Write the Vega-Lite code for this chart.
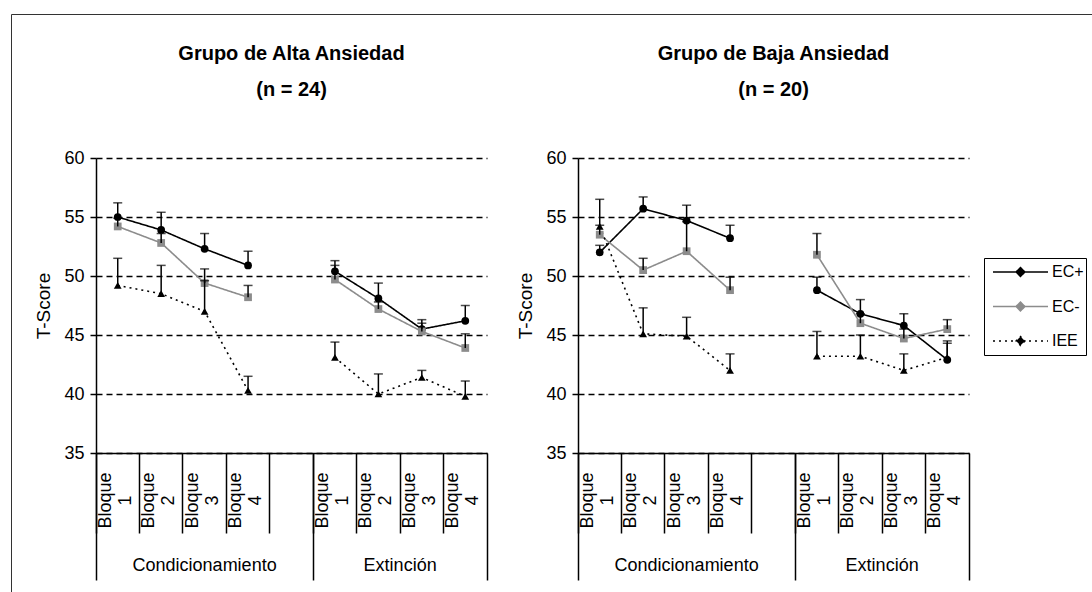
{
  "$schema": "https://vega.github.io/schema/vega-lite/v6.json",
  "autosize": {"type": "none"},
  "padding": {"left": 96, "top": 158, "right": 996, "bottom": 434},
  "background": "white",
  "spacing": 91,
  "bounds": "flush",
  "data": {"values": [
    {"grupo": "Alta", "fase": "Condicionamiento", "bloque": "C1", "serie": "EC+", "valor": 55.0, "sup": 56.2},
    {"grupo": "Alta", "fase": "Condicionamiento", "bloque": "C1", "serie": "EC-", "valor": 54.2, "sup": 54.9},
    {"grupo": "Alta", "fase": "Condicionamiento", "bloque": "C1", "serie": "IEE", "valor": 49.2, "sup": 51.5},
    {"grupo": "Alta", "fase": "Condicionamiento", "bloque": "C2", "serie": "EC+", "valor": 53.9, "sup": 55.4},
    {"grupo": "Alta", "fase": "Condicionamiento", "bloque": "C2", "serie": "EC-", "valor": 52.8, "sup": 53.6},
    {"grupo": "Alta", "fase": "Condicionamiento", "bloque": "C2", "serie": "IEE", "valor": 48.5, "sup": 50.9},
    {"grupo": "Alta", "fase": "Condicionamiento", "bloque": "C3", "serie": "EC+", "valor": 52.3, "sup": 53.6},
    {"grupo": "Alta", "fase": "Condicionamiento", "bloque": "C3", "serie": "EC-", "valor": 49.4, "sup": 50.6},
    {"grupo": "Alta", "fase": "Condicionamiento", "bloque": "C3", "serie": "IEE", "valor": 47.0, "sup": 49.6},
    {"grupo": "Alta", "fase": "Condicionamiento", "bloque": "C4", "serie": "EC+", "valor": 50.9, "sup": 52.1},
    {"grupo": "Alta", "fase": "Condicionamiento", "bloque": "C4", "serie": "EC-", "valor": 48.2, "sup": 49.2},
    {"grupo": "Alta", "fase": "Condicionamiento", "bloque": "C4", "serie": "IEE", "valor": 40.3, "sup": 41.5},
    {"grupo": "Alta", "fase": "Extinción", "bloque": "E1", "serie": "EC+", "valor": 50.4, "sup": 51.3},
    {"grupo": "Alta", "fase": "Extinción", "bloque": "E1", "serie": "EC-", "valor": 49.7, "sup": 50.9},
    {"grupo": "Alta", "fase": "Extinción", "bloque": "E1", "serie": "IEE", "valor": 43.1, "sup": 44.4},
    {"grupo": "Alta", "fase": "Extinción", "bloque": "E2", "serie": "EC+", "valor": 48.1, "sup": 49.4},
    {"grupo": "Alta", "fase": "Extinción", "bloque": "E2", "serie": "EC-", "valor": 47.2, "sup": 47.8},
    {"grupo": "Alta", "fase": "Extinción", "bloque": "E2", "serie": "IEE", "valor": 40.0, "sup": 41.7},
    {"grupo": "Alta", "fase": "Extinción", "bloque": "E3", "serie": "EC+", "valor": 45.5, "sup": 46.3},
    {"grupo": "Alta", "fase": "Extinción", "bloque": "E3", "serie": "EC-", "valor": 45.3, "sup": 46.0},
    {"grupo": "Alta", "fase": "Extinción", "bloque": "E3", "serie": "IEE", "valor": 41.4, "sup": 42.0},
    {"grupo": "Alta", "fase": "Extinción", "bloque": "E4", "serie": "EC+", "valor": 46.2, "sup": 47.5},
    {"grupo": "Alta", "fase": "Extinción", "bloque": "E4", "serie": "EC-", "valor": 43.9, "sup": 45.1},
    {"grupo": "Alta", "fase": "Extinción", "bloque": "E4", "serie": "IEE", "valor": 39.8, "sup": 41.1},
    {"grupo": "Baja", "fase": "Condicionamiento", "bloque": "C1", "serie": "EC+", "valor": 52.0, "sup": 52.6},
    {"grupo": "Baja", "fase": "Condicionamiento", "bloque": "C1", "serie": "EC-", "valor": 53.5, "sup": 54.3},
    {"grupo": "Baja", "fase": "Condicionamiento", "bloque": "C1", "serie": "IEE", "valor": 54.2, "sup": 56.5},
    {"grupo": "Baja", "fase": "Condicionamiento", "bloque": "C2", "serie": "EC+", "valor": 55.7, "sup": 56.7},
    {"grupo": "Baja", "fase": "Condicionamiento", "bloque": "C2", "serie": "EC-", "valor": 50.5, "sup": 51.5},
    {"grupo": "Baja", "fase": "Condicionamiento", "bloque": "C2", "serie": "IEE", "valor": 45.1, "sup": 47.3},
    {"grupo": "Baja", "fase": "Condicionamiento", "bloque": "C3", "serie": "EC+", "valor": 54.7, "sup": 56.0},
    {"grupo": "Baja", "fase": "Condicionamiento", "bloque": "C3", "serie": "EC-", "valor": 52.1, "sup": 54.6},
    {"grupo": "Baja", "fase": "Condicionamiento", "bloque": "C3", "serie": "IEE", "valor": 44.9, "sup": 46.5},
    {"grupo": "Baja", "fase": "Condicionamiento", "bloque": "C4", "serie": "EC+", "valor": 53.2, "sup": 54.3},
    {"grupo": "Baja", "fase": "Condicionamiento", "bloque": "C4", "serie": "EC-", "valor": 48.8, "sup": 49.9},
    {"grupo": "Baja", "fase": "Condicionamiento", "bloque": "C4", "serie": "IEE", "valor": 42.0, "sup": 43.4},
    {"grupo": "Baja", "fase": "Extinción", "bloque": "E1", "serie": "EC+", "valor": 48.8, "sup": 49.9},
    {"grupo": "Baja", "fase": "Extinción", "bloque": "E1", "serie": "EC-", "valor": 51.8, "sup": 53.6},
    {"grupo": "Baja", "fase": "Extinción", "bloque": "E1", "serie": "IEE", "valor": 43.2, "sup": 45.3},
    {"grupo": "Baja", "fase": "Extinción", "bloque": "E2", "serie": "EC+", "valor": 46.8, "sup": 48.0},
    {"grupo": "Baja", "fase": "Extinción", "bloque": "E2", "serie": "EC-", "valor": 46.0, "sup": 46.8},
    {"grupo": "Baja", "fase": "Extinción", "bloque": "E2", "serie": "IEE", "valor": 43.2, "sup": 45.0},
    {"grupo": "Baja", "fase": "Extinción", "bloque": "E3", "serie": "EC+", "valor": 45.8, "sup": 46.8},
    {"grupo": "Baja", "fase": "Extinción", "bloque": "E3", "serie": "EC-", "valor": 44.7, "sup": 45.5},
    {"grupo": "Baja", "fase": "Extinción", "bloque": "E3", "serie": "IEE", "valor": 42.0, "sup": 43.4},
    {"grupo": "Baja", "fase": "Extinción", "bloque": "E4", "serie": "EC+", "valor": 42.9, "sup": 44.5},
    {"grupo": "Baja", "fase": "Extinción", "bloque": "E4", "serie": "EC-", "valor": 45.5, "sup": 46.3},
    {"grupo": "Baja", "fase": "Extinción", "bloque": "E4", "serie": "IEE", "valor": 43.1, "sup": 44.3}
  ]},
  "hconcat": [
    {
      "title": {"text": ["Grupo de Alta Ansiedad", "(n = 24)"]},
      "width": 391,
      "height": 295,
      "transform": [{"filter": "datum.grupo === 'Alta'"}],
      "resolve": {"axis": {"x": "independent"}},
      "layer": [
        {
          "mark": {"type": "line", "strokeWidth": 1.6},
          "encoding": {
            "x": {"field": "bloque", "type": "nominal", "scale": {"type": "band", "domain": ["C1", "C2", "C3", "C4", "gap", "E1", "E2", "E3", "E4"], "paddingInner": 0, "paddingOuter": 0},
              "axis": {"orient": "bottom", "bandPosition": 0, "domain": true, "domainColor": "#000", "domainWidth": 1.5, "ticks": true, "tickSize": 80, "tickColor": "#000", "tickWidth": 1.5, "labelAngle": -90, "labelAlign": "center", "labelBaseline": "top", "labelPadding": -33, "labelOffset": -21, "labelFontSize": 18, "labelLineHeight": 20, "labelColor": "#000", "labelOverlap": false, "labelExpr": "datum.value === 'gap' ? '' : ['Bloque', substring(datum.value, 1)]", "title": null}},
            "y": {"field": "valor", "type": "quantitative", "scale": {"domain": [35, 60]},
              "axis": {"values": [35, 40, 45, 50, 55, 60], "grid": true, "gridColor": "#000", "gridDash": [6, 4], "gridWidth": 1.5, "domainColor": "#000", "domainWidth": 1.5, "tickColor": "#000", "tickWidth": 1.5, "tickSize": 6, "labelFontSize": 18, "labelColor": "#000", "labelPadding": 6, "title": "T-Score", "titleFontSize": 19, "titleFontWeight": "normal", "titleColor": "#000", "titleX": -53, "titleBaseline": "middle"}},
            "color": {"field": "serie", "type": "nominal", "scale": {"domain": ["EC+", "EC-", "IEE"], "range": ["#000000", "#8c8c8c", "#000000"]}},
            "strokeDash": {"field": "serie", "type": "nominal", "scale": {"domain": ["EC+", "EC-", "IEE"], "range": [[1, 0], [1, 0], [2, 4]]}},
            "detail": {"field": "fase"}
          }
        },
        {
          "mark": {"type": "point", "filled": true, "opacity": 1, "size": 60},
          "encoding": {
            "x": {"field": "bloque", "type": "nominal", "scale": {"type": "band", "domain": ["C1", "C2", "C3", "C4", "gap", "E1", "E2", "E3", "E4"], "paddingInner": 0, "paddingOuter": 0},
              "axis": {"orient": "bottom", "values": ["C3", "E3"], "labelOffset": {"condition": {"test": "datum.value === 'E3'", "value": -21.7}, "value": 0}, "domain": false, "ticks": false, "labelAngle": 0, "labelAlign": "center", "labelBaseline": "middle", "labelPadding": 112, "labelFontSize": 18, "labelColor": "#000", "labelExpr": "datum.value === 'C3' ? 'Condicionamiento' : 'Extinción'", "title": null}},
            "y": {"field": "valor", "type": "quantitative", "scale": {"domain": [35, 60]},
              "axis": {"values": [35, 40, 45, 50, 55, 60], "grid": true, "gridColor": "#000", "gridDash": [6, 4], "gridWidth": 1.5, "domainColor": "#000", "domainWidth": 1.5, "tickColor": "#000", "tickWidth": 1.5, "tickSize": 6, "labelFontSize": 18, "labelColor": "#000", "labelPadding": 6, "title": "T-Score", "titleFontSize": 19, "titleFontWeight": "normal", "titleColor": "#000", "titleX": -53, "titleBaseline": "middle"}},
            "shape": {"field": "serie", "type": "nominal", "scale": {"domain": ["EC+", "IEE", "EC-"], "range": ["circle", "triangle-up", "square"]}, "legend": null},
            "color": {"field": "serie", "type": "nominal", "scale": {"domain": ["EC+", "EC-", "IEE"], "range": ["#000000", "#8c8c8c", "#000000"]},
              "legend": {"orient": "none", "legendX": 888, "legendY": 100, "title": null, "strokeColor": "#000", "fillColor": "#fff", "padding": 2, "symbolOffset": 6, "symbolSize": 3025, "clipHeight": 24, "rowPadding": 10.5, "labelOffset": 3, "labelFontSize": 16, "labelColor": "#000", "symbolStrokeWidth": 1.5, "symbolOpacity": 1,
                "symbolType": "M-1,0L1,0M0.16,0L0,0.16L-0.16,0L0,-0.16Z"}}
          }
        },
        {
          "mark": {"type": "rule", "color": "#000", "strokeWidth": 1.5},
          "encoding": {
            "x": {"field": "bloque", "type": "nominal", "scale": {"type": "band", "domain": ["C1", "C2", "C3", "C4", "gap", "E1", "E2", "E3", "E4"], "paddingInner": 0, "paddingOuter": 0},
              "axis": {"orient": "bottom", "values": ["C1", "E1"], "bandPosition": 0, "domain": false, "ticks": true, "tickSize": 127, "tickColor": "#000", "tickWidth": 1.5, "labels": false, "title": null}},
            "y": {"field": "valor", "type": "quantitative", "scale": {"domain": [35, 60]},
              "axis": {"values": [35, 40, 45, 50, 55, 60], "grid": true, "gridColor": "#000", "gridDash": [6, 4], "gridWidth": 1.5, "domainColor": "#000", "domainWidth": 1.5, "tickColor": "#000", "tickWidth": 1.5, "tickSize": 6, "labelFontSize": 18, "labelColor": "#000", "labelPadding": 6, "title": "T-Score", "titleFontSize": 19, "titleFontWeight": "normal", "titleColor": "#000", "titleX": -53, "titleBaseline": "middle"}},
            "y2": {"field": "sup"}
          }
        },
        {
          "mark": {"type": "tick", "orient": "horizontal", "color": "#000", "thickness": 1.5},
          "encoding": {
            "x": {"field": "bloque", "type": "nominal", "scale": {"type": "band", "domain": ["C1", "C2", "C3", "C4", "gap", "E1", "E2", "E3", "E4"], "paddingInner": 0, "paddingOuter": 0},
              "axis": {"orient": "bottom", "values": ["E4"], "bandPosition": 1, "domain": false, "ticks": true, "tickSize": 127, "tickColor": "#000", "tickWidth": 1.5, "labels": false, "title": null}},
            "y": {"field": "sup", "type": "quantitative", "scale": {"domain": [35, 60]},
              "axis": {"values": [35, 40, 45, 50, 55, 60], "grid": true, "gridColor": "#000", "gridDash": [6, 4], "gridWidth": 1.5, "domainColor": "#000", "domainWidth": 1.5, "tickColor": "#000", "tickWidth": 1.5, "tickSize": 6, "labelFontSize": 18, "labelColor": "#000", "labelPadding": 6, "title": "T-Score", "titleFontSize": 19, "titleFontWeight": "normal", "titleColor": "#000", "titleX": -53, "titleBaseline": "middle"}},
            "size": {"field": "serie", "type": "ordinal", "scale": {"domain": ["IEE", "EC-", "EC+"], "range": [9, 9]},
              "legend": {"orient": "none", "legendX": -85, "legendY": -144, "title": null, "padding": 700, "strokeColor": "#333", "symbolOpacity": 0, "labelOpacity": 0, "labelExpr": "''", "encode": {"legend": {"strokeWidth": {"value": 2}}}}}
          }
        }
      ]
    },
    {
      "title": {"text": ["Grupo de Baja Ansiedad", "(n = 20)"]},
      "width": 391,
      "height": 295,
      "transform": [{"filter": "datum.grupo === 'Baja'"}],
      "resolve": {"axis": {"x": "independent"}},
      "layer": [
        {
          "mark": {"type": "line", "strokeWidth": 1.6},
          "encoding": {
            "x": {"field": "bloque", "type": "nominal", "scale": {"type": "band", "domain": ["C1", "C2", "C3", "C4", "gap", "E1", "E2", "E3", "E4"], "paddingInner": 0, "paddingOuter": 0},
              "axis": {"orient": "bottom", "bandPosition": 0, "domain": true, "domainColor": "#000", "domainWidth": 1.5, "ticks": true, "tickSize": 80, "tickColor": "#000", "tickWidth": 1.5, "labelAngle": -90, "labelAlign": "center", "labelBaseline": "top", "labelPadding": -33, "labelOffset": -21, "labelFontSize": 18, "labelLineHeight": 20, "labelColor": "#000", "labelOverlap": false, "labelExpr": "datum.value === 'gap' ? '' : ['Bloque', substring(datum.value, 1)]", "title": null}},
            "y": {"field": "valor", "type": "quantitative", "scale": {"domain": [35, 60]},
              "axis": {"values": [35, 40, 45, 50, 55, 60], "grid": true, "gridColor": "#000", "gridDash": [6, 4], "gridWidth": 1.5, "domainColor": "#000", "domainWidth": 1.5, "tickColor": "#000", "tickWidth": 1.5, "tickSize": 6, "labelFontSize": 18, "labelColor": "#000", "labelPadding": 6, "title": "T-Score", "titleFontSize": 19, "titleFontWeight": "normal", "titleColor": "#000", "titleX": -53, "titleBaseline": "middle"}},
            "color": {"field": "serie", "type": "nominal", "scale": {"domain": ["EC+", "EC-", "IEE"], "range": ["#000000", "#8c8c8c", "#000000"]}},
            "strokeDash": {"field": "serie", "type": "nominal", "scale": {"domain": ["EC+", "EC-", "IEE"], "range": [[1, 0], [1, 0], [2, 4]]}},
            "detail": {"field": "fase"}
          }
        },
        {
          "mark": {"type": "point", "filled": true, "opacity": 1, "size": 60},
          "encoding": {
            "x": {"field": "bloque", "type": "nominal", "scale": {"type": "band", "domain": ["C1", "C2", "C3", "C4", "gap", "E1", "E2", "E3", "E4"], "paddingInner": 0, "paddingOuter": 0},
              "axis": {"orient": "bottom", "values": ["C3", "E3"], "labelOffset": {"condition": {"test": "datum.value === 'E3'", "value": -21.7}, "value": 0}, "domain": false, "ticks": false, "labelAngle": 0, "labelAlign": "center", "labelBaseline": "middle", "labelPadding": 112, "labelFontSize": 18, "labelColor": "#000", "labelExpr": "datum.value === 'C3' ? 'Condicionamiento' : 'Extinción'", "title": null}},
            "y": {"field": "valor", "type": "quantitative", "scale": {"domain": [35, 60]},
              "axis": {"values": [35, 40, 45, 50, 55, 60], "grid": true, "gridColor": "#000", "gridDash": [6, 4], "gridWidth": 1.5, "domainColor": "#000", "domainWidth": 1.5, "tickColor": "#000", "tickWidth": 1.5, "tickSize": 6, "labelFontSize": 18, "labelColor": "#000", "labelPadding": 6, "title": "T-Score", "titleFontSize": 19, "titleFontWeight": "normal", "titleColor": "#000", "titleX": -53, "titleBaseline": "middle"}},
            "shape": {"field": "serie", "type": "nominal", "scale": {"domain": ["EC+", "IEE", "EC-"], "range": ["circle", "triangle-up", "square"]}, "legend": null},
            "color": {"field": "serie", "type": "nominal", "scale": {"domain": ["EC+", "EC-", "IEE"], "range": ["#000000", "#8c8c8c", "#000000"]},
              "legend": {"orient": "none", "legendX": 888, "legendY": 100, "title": null, "strokeColor": "#000", "fillColor": "#fff", "padding": 2, "symbolOffset": 6, "symbolSize": 3025, "clipHeight": 24, "rowPadding": 10.5, "labelOffset": 3, "labelFontSize": 16, "labelColor": "#000", "symbolStrokeWidth": 1.5, "symbolOpacity": 1,
                "symbolType": "M-1,0L1,0M0.16,0L0,0.16L-0.16,0L0,-0.16Z"}}
          }
        },
        {
          "mark": {"type": "rule", "color": "#000", "strokeWidth": 1.5},
          "encoding": {
            "x": {"field": "bloque", "type": "nominal", "scale": {"type": "band", "domain": ["C1", "C2", "C3", "C4", "gap", "E1", "E2", "E3", "E4"], "paddingInner": 0, "paddingOuter": 0},
              "axis": {"orient": "bottom", "values": ["C1", "E1"], "bandPosition": 0, "domain": false, "ticks": true, "tickSize": 127, "tickColor": "#000", "tickWidth": 1.5, "labels": false, "title": null}},
            "y": {"field": "valor", "type": "quantitative", "scale": {"domain": [35, 60]},
              "axis": {"values": [35, 40, 45, 50, 55, 60], "grid": true, "gridColor": "#000", "gridDash": [6, 4], "gridWidth": 1.5, "domainColor": "#000", "domainWidth": 1.5, "tickColor": "#000", "tickWidth": 1.5, "tickSize": 6, "labelFontSize": 18, "labelColor": "#000", "labelPadding": 6, "title": "T-Score", "titleFontSize": 19, "titleFontWeight": "normal", "titleColor": "#000", "titleX": -53, "titleBaseline": "middle"}},
            "y2": {"field": "sup"}
          }
        },
        {
          "mark": {"type": "tick", "orient": "horizontal", "color": "#000", "thickness": 1.5},
          "encoding": {
            "x": {"field": "bloque", "type": "nominal", "scale": {"type": "band", "domain": ["C1", "C2", "C3", "C4", "gap", "E1", "E2", "E3", "E4"], "paddingInner": 0, "paddingOuter": 0},
              "axis": {"orient": "bottom", "values": ["E4"], "bandPosition": 1, "domain": false, "ticks": true, "tickSize": 127, "tickColor": "#000", "tickWidth": 1.5, "labels": false, "title": null}},
            "y": {"field": "sup", "type": "quantitative", "scale": {"domain": [35, 60]},
              "axis": {"values": [35, 40, 45, 50, 55, 60], "grid": true, "gridColor": "#000", "gridDash": [6, 4], "gridWidth": 1.5, "domainColor": "#000", "domainWidth": 1.5, "tickColor": "#000", "tickWidth": 1.5, "tickSize": 6, "labelFontSize": 18, "labelColor": "#000", "labelPadding": 6, "title": "T-Score", "titleFontSize": 19, "titleFontWeight": "normal", "titleColor": "#000", "titleX": -53, "titleBaseline": "middle"}},
            "size": {"field": "serie", "type": "ordinal", "scale": {"domain": ["IEE", "EC-", "EC+"], "range": [9, 9]},
              "legend": {"orient": "none", "legendX": -85, "legendY": -144, "title": null, "padding": 700, "strokeColor": "#333", "symbolOpacity": 0, "labelOpacity": 0, "labelExpr": "''", "encode": {"legend": {"strokeWidth": {"value": 2}}}}}
          }
        }
      ]
    }
  ],
  "config": {
    "view": {"stroke": null},
    "font": "Liberation Sans",
    "title": {"font": "Liberation Sans", "fontSize": 20, "fontWeight": "bold", "lineHeight": 36, "baseline": "bottom", "offset": 49, "anchor": "middle", "color": "#000"}
  }
}
